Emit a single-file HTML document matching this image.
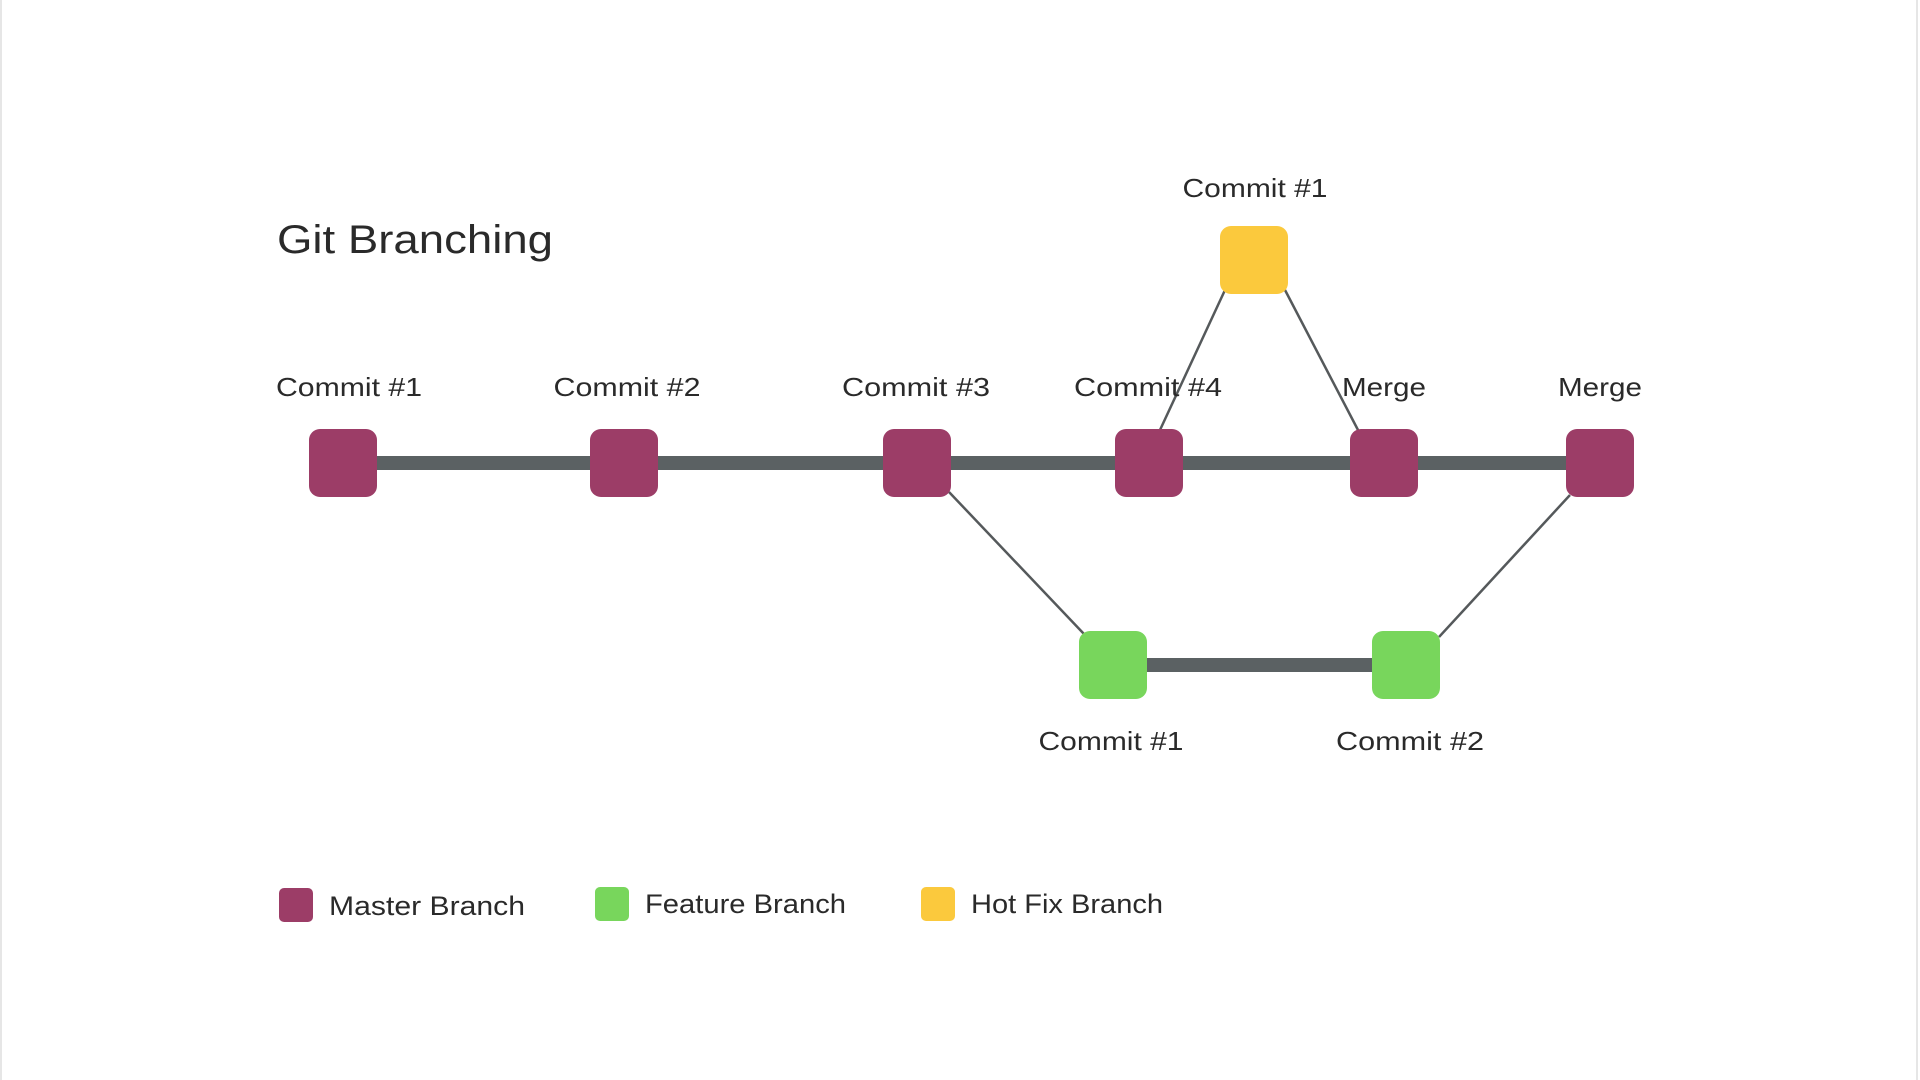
<!DOCTYPE html>
<html><head><meta charset="utf-8"><style>
html,body{margin:0;padding:0;background:#fff;}
svg{display:block;}
text{font-family:"Liberation Sans",sans-serif;fill:#2a2a2a;}
</style></head><body>
<svg width="1920" height="1080" viewBox="0 0 1920 1080">
<rect x="0" y="0" width="1920" height="1080" fill="#fff"/>
<line x1="1" y1="0" x2="1" y2="1080" stroke="#e6e6e6" stroke-width="2"/>
<line x1="1917" y1="0" x2="1917" y2="1080" stroke="#e6e6e6" stroke-width="2"/>
<text x="277" y="253" font-size="40" textLength="276" lengthAdjust="spacingAndGlyphs">Git Branching</text>
<!-- thin connectors -->
<g stroke="#55595b" stroke-width="2.5">
<line x1="949" y1="492" x2="1084" y2="634"/>
<line x1="1439" y1="637" x2="1570" y2="495"/>
<line x1="1225" y1="290" x2="1160" y2="430"/>
<line x1="1285" y1="290" x2="1358" y2="430"/>
</g>
<!-- thick lines -->
<line x1="343" y1="463" x2="1600" y2="463" stroke="#5b6163" stroke-width="14"/>
<line x1="1113" y1="665" x2="1406" y2="665" stroke="#5b6163" stroke-width="14"/>
<!-- master nodes -->
<g fill="#9c3d67">
<rect x="309" y="429" width="68" height="68" rx="11"/>
<rect x="590" y="429" width="68" height="68" rx="11"/>
<rect x="883" y="429" width="68" height="68" rx="11"/>
<rect x="1115" y="429" width="68" height="68" rx="11"/>
<rect x="1350" y="429" width="68" height="68" rx="11"/>
<rect x="1566" y="429" width="68" height="68" rx="11"/>
</g>
<rect x="1220" y="226" width="68" height="68" rx="11" fill="#fbc93d"/>
<g fill="#78d65c">
<rect x="1079" y="631" width="68" height="68" rx="11"/>
<rect x="1372" y="631" width="68" height="68" rx="11"/>
</g>
<!-- labels -->
<g font-size="26" text-anchor="middle">
<text x="349" y="396" textLength="146" lengthAdjust="spacingAndGlyphs">Commit #1</text>
<text x="627" y="396" textLength="147" lengthAdjust="spacingAndGlyphs">Commit #2</text>
<text x="916" y="396" textLength="148" lengthAdjust="spacingAndGlyphs">Commit #3</text>
<text x="1148" y="396" textLength="148" lengthAdjust="spacingAndGlyphs">Commit #4</text>
<text x="1384" y="396" textLength="84" lengthAdjust="spacingAndGlyphs">Merge</text>
<text x="1600" y="396" textLength="84" lengthAdjust="spacingAndGlyphs">Merge</text>
<text x="1255" y="197" textLength="145" lengthAdjust="spacingAndGlyphs">Commit #1</text>
<text x="1111" y="750" textLength="145" lengthAdjust="spacingAndGlyphs">Commit #1</text>
<text x="1410" y="750" textLength="148" lengthAdjust="spacingAndGlyphs">Commit #2</text>
</g>
<!-- legend -->
<rect x="279" y="888" width="34" height="34" rx="5" fill="#9c3d67"/>
<rect x="595" y="887" width="34" height="34" rx="5" fill="#78d65c"/>
<rect x="921" y="887" width="34" height="34" rx="5" fill="#fbc93d"/>
<g font-size="27">
<text x="329" y="915" textLength="196" lengthAdjust="spacingAndGlyphs">Master Branch</text>
<text x="645" y="913" textLength="201" lengthAdjust="spacingAndGlyphs">Feature Branch</text>
<text x="971" y="913" textLength="192" lengthAdjust="spacingAndGlyphs">Hot Fix Branch</text>
</g>
</svg>
</body></html>
